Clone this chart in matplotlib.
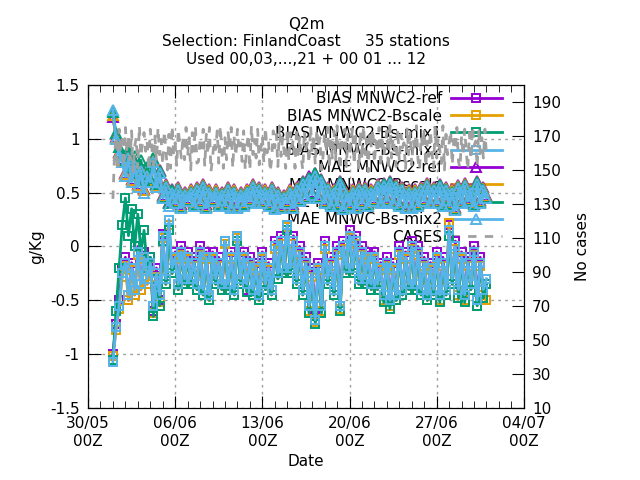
import numpy as np
import pandas as pd
import matplotlib
matplotlib.use('Agg')
import matplotlib.pyplot as plt
import matplotlib.dates as mdates

plt.rcParams['font.family'] = 'DejaVu Sans'
plt.rcParams['font.size'] = 11

# valid times, every 6h (scores) and every 3h (cases) from 01/06 00Z to 01/07 00Z
times = pd.date_range('2021-06-01 00:00', periods=121, freq='6h')
times_cases = pd.date_range('2021-06-01 00:00', periods=241, freq='3h')

# one group per day: 00Z 06Z 12Z 18Z
bias_ref = [-1.00, -0.72, -0.50, -0.20,  -0.10, -0.50, -0.15, -0.45,  0.00, -0.40, -0.05, -0.35,
            -0.10, -0.60, -0.20, -0.50,  0.12, -0.35, 0.20, -0.25,  -0.05, -0.40, 0.00, -0.35,
            -0.05, -0.35, -0.10, -0.40,  0.00, -0.45, -0.05, -0.50,  -0.05, -0.35, -0.10, -0.40,
            0.05, -0.40, -0.05, -0.45,  0.10, -0.35, -0.05, -0.40,  -0.10, -0.45, -0.15, -0.50,
            -0.05, -0.40, -0.15, -0.45,  0.05, -0.30, 0.10, -0.25,  0.20, -0.25, 0.10, -0.35,
            0.00, -0.45, -0.10, -0.60,  -0.20, -0.65, -0.15, -0.60,  0.05, -0.35, -0.10, -0.45,
            0.00, -0.55, 0.05, -0.25,  0.15, -0.25, 0.10, -0.35,  0.00, -0.35, -0.05, -0.40,
            -0.05, -0.40, -0.15, -0.50,  -0.10, -0.55, -0.15, -0.50,  0.00, -0.45, -0.05, -0.40,
            0.05, -0.40, 0.00, -0.45,  -0.10, -0.50, -0.15, -0.45,  -0.05, -0.50, -0.10, -0.45,
            0.20, -0.35, 0.05, -0.45,  -0.05, -0.50, -0.10, -0.40,  0.00, -0.50, -0.10, -0.45,
            -0.35]
bias_bscale = [-1.02, -0.78, -0.58, -0.28,  -0.18, -0.50, -0.22, -0.45,  -0.08, -0.40, -0.12, -0.35,
               -0.18, -0.62, -0.28, -0.52,  0.08, -0.35, 0.20, -0.25,  -0.12, -0.40, -0.08, -0.35,
               -0.12, -0.35, -0.18, -0.40,  -0.08, -0.45, -0.12, -0.50,  -0.12, -0.35, -0.18, -0.40,
               0.02, -0.40, -0.12, -0.45,  0.08, -0.35, -0.12, -0.42,  -0.18, -0.45, -0.22, -0.50,
               -0.12, -0.40, -0.22, -0.45,  -0.02, -0.30, 0.02, -0.25,  0.18, -0.25, 0.02, -0.35,
               -0.08, -0.45, -0.18, -0.60,  -0.28, -0.70, -0.22, -0.60,  -0.02, -0.35, -0.18, -0.45,
               -0.08, -0.58, -0.02, -0.25,  0.08, -0.25, 0.02, -0.35,  -0.08, -0.35, -0.12, -0.40,
               -0.12, -0.40, -0.22, -0.50,  -0.18, -0.55, -0.22, -0.50,  -0.08, -0.45, -0.12, -0.40,
               -0.02, -0.40, -0.08, -0.45,  -0.18, -0.50, -0.22, -0.45,  -0.12, -0.50, -0.18, -0.45,
               0.22, -0.35, -0.02, -0.45,  -0.12, -0.50, -0.18, -0.40,  -0.08, -0.55, -0.18, -0.45,
               -0.50]
bias_mix1 = [-1.05, -0.60, -0.20, 0.20,  0.45, 0.10, 0.35, 0.00,  0.30, -0.05, 0.15, -0.20,
             -0.10, -0.65, -0.30, -0.55,  0.05, -0.35, 0.15, -0.25,  -0.10, -0.40, -0.05, -0.35,
             -0.10, -0.35, -0.15, -0.40,  -0.05, -0.45, -0.10, -0.50,  -0.10, -0.35, -0.15, -0.40,
             0.05, -0.40, -0.10, -0.45,  0.05, -0.35, -0.10, -0.42,  -0.15, -0.45, -0.20, -0.50,
             -0.10, -0.40, -0.20, -0.45,  0.00, -0.30, 0.05, -0.25,  0.15, -0.25, 0.05, -0.35,
             -0.05, -0.45, -0.15, -0.62,  -0.25, -0.72, -0.20, -0.62,  0.00, -0.35, -0.15, -0.45,
             -0.05, -0.60, 0.00, -0.25,  0.10, -0.25, 0.05, -0.35,  -0.05, -0.35, -0.10, -0.40,
             -0.10, -0.40, -0.20, -0.52,  -0.15, -0.58, -0.20, -0.50,  -0.05, -0.45, -0.10, -0.40,
             0.00, -0.40, -0.05, -0.45,  -0.15, -0.50, -0.20, -0.45,  -0.10, -0.52, -0.15, -0.45,
             0.10, -0.35, 0.00, -0.48,  -0.10, -0.52, -0.15, -0.40,  -0.05, -0.55, -0.15, -0.48,
             -0.35]
bias_mix2 = [-1.07, -0.75, -0.55, -0.25,  -0.15, -0.45, -0.20, -0.40,  -0.05, -0.35, -0.10, -0.30,
             -0.15, -0.55, -0.25, -0.45,  0.10, -0.30, 0.25, -0.20,  -0.10, -0.35, -0.05, -0.30,
             -0.10, -0.30, -0.15, -0.35,  -0.05, -0.40, -0.10, -0.45,  -0.10, -0.30, -0.15, -0.35,
             0.05, -0.35, -0.10, -0.40,  0.10, -0.30, -0.10, -0.35,  -0.15, -0.40, -0.20, -0.45,
             -0.10, -0.35, -0.20, -0.40,  0.00, -0.25, 0.05, -0.20,  0.20, -0.20, 0.05, -0.30,
             -0.05, -0.40, -0.15, -0.55,  -0.25, -0.68, -0.20, -0.55,  0.00, -0.30, -0.15, -0.40,
             -0.05, -0.55, 0.00, -0.20,  0.10, -0.20, 0.05, -0.30,  -0.05, -0.30, -0.10, -0.35,
             -0.10, -0.35, -0.20, -0.45,  -0.15, -0.50, -0.20, -0.45,  -0.05, -0.40, -0.10, -0.35,
             0.00, -0.35, -0.05, -0.40,  -0.15, -0.45, -0.20, -0.40,  -0.10, -0.45, -0.15, -0.40,
             0.15, -0.30, 0.00, -0.40,  -0.10, -0.45, -0.15, -0.35,  -0.05, -0.50, -0.15, -0.40,
             -0.30]

mae_ref = [1.20, 1.02, 0.88, 0.81,  0.68, 0.85, 0.63, 0.78,  0.58, 0.73, 0.53, 0.68,
           0.63, 0.81, 0.58, 0.71,  0.48, 0.58, 0.41, 0.53,  0.43, 0.55, 0.39, 0.51,
           0.45, 0.53, 0.41, 0.55,  0.43, 0.58, 0.39, 0.53,  0.45, 0.53, 0.41, 0.51,
           0.41, 0.55, 0.39, 0.53,  0.39, 0.51, 0.41, 0.53,  0.45, 0.58, 0.43, 0.55,
           0.43, 0.53, 0.41, 0.55,  0.38, 0.51, 0.39, 0.48,  0.43, 0.53, 0.39, 0.55,
           0.45, 0.61, 0.48, 0.65,  0.51, 0.68, 0.48, 0.63,  0.43, 0.55, 0.41, 0.53,
           0.41, 0.61, 0.38, 0.51,  0.41, 0.53, 0.39, 0.55,  0.43, 0.55, 0.41, 0.53,
           0.45, 0.58, 0.43, 0.59,  0.45, 0.61, 0.43, 0.58,  0.41, 0.55, 0.39, 0.53,
           0.39, 0.53, 0.41, 0.55,  0.45, 0.59, 0.43, 0.55,  0.43, 0.58, 0.41, 0.55,
           0.41, 0.53, 0.37, 0.57,  0.43, 0.59, 0.45, 0.53,  0.41, 0.61, 0.43, 0.55,
           0.48]
mae_bscale = [1.22, 1.01, 0.87, 0.80,  0.67, 0.84, 0.62, 0.77,  0.57, 0.72, 0.52, 0.67,
              0.62, 0.80, 0.57, 0.70,  0.47, 0.57, 0.40, 0.52,  0.42, 0.54, 0.38, 0.50,
              0.44, 0.52, 0.40, 0.54,  0.42, 0.57, 0.38, 0.52,  0.44, 0.52, 0.40, 0.50,
              0.40, 0.54, 0.38, 0.52,  0.38, 0.50, 0.40, 0.52,  0.44, 0.57, 0.42, 0.54,
              0.42, 0.52, 0.40, 0.54,  0.37, 0.50, 0.38, 0.47,  0.42, 0.52, 0.38, 0.54,
              0.44, 0.60, 0.47, 0.64,  0.50, 0.67, 0.47, 0.62,  0.42, 0.54, 0.40, 0.52,
              0.40, 0.60, 0.37, 0.50,  0.40, 0.52, 0.38, 0.54,  0.42, 0.54, 0.40, 0.52,
              0.44, 0.57, 0.42, 0.58,  0.44, 0.60, 0.42, 0.57,  0.40, 0.54, 0.38, 0.52,
              0.38, 0.52, 0.40, 0.54,  0.44, 0.58, 0.42, 0.54,  0.42, 0.57, 0.40, 0.54,
              0.40, 0.52, 0.36, 0.56,  0.42, 0.58, 0.44, 0.52,  0.40, 0.60, 0.42, 0.54,
              0.47]
mae_mix1 = [1.25, 1.05, 0.92, 0.86,  0.78, 0.90, 0.74, 0.84,  0.68, 0.80, 0.62, 0.74,
            0.64, 0.82, 0.58, 0.70,  0.46, 0.56, 0.40, 0.52,  0.41, 0.53, 0.37, 0.49,
            0.43, 0.51, 0.39, 0.53,  0.41, 0.56, 0.37, 0.51,  0.43, 0.51, 0.39, 0.49,
            0.39, 0.53, 0.37, 0.51,  0.37, 0.49, 0.39, 0.51,  0.43, 0.56, 0.41, 0.53,
            0.41, 0.51, 0.39, 0.53,  0.36, 0.49, 0.37, 0.46,  0.41, 0.51, 0.37, 0.53,
            0.43, 0.60, 0.46, 0.64,  0.50, 0.68, 0.46, 0.62,  0.41, 0.53, 0.39, 0.51,
            0.39, 0.60, 0.36, 0.49,  0.39, 0.51, 0.37, 0.53,  0.41, 0.53, 0.39, 0.51,
            0.43, 0.56, 0.41, 0.58,  0.43, 0.60, 0.41, 0.56,  0.39, 0.53, 0.37, 0.51,
            0.37, 0.51, 0.39, 0.53,  0.43, 0.57, 0.41, 0.53,  0.41, 0.57, 0.39, 0.53,
            0.39, 0.51, 0.35, 0.55,  0.41, 0.57, 0.43, 0.51,  0.39, 0.60, 0.41, 0.53,
            0.46]
mae_mix2 = [1.27, 1.00, 0.85, 0.78,  0.65, 0.82, 0.60, 0.75,  0.55, 0.70, 0.50, 0.65,
            0.60, 0.78, 0.55, 0.68,  0.45, 0.55, 0.38, 0.50,  0.40, 0.52, 0.36, 0.48,
            0.42, 0.50, 0.38, 0.52,  0.40, 0.55, 0.36, 0.50,  0.42, 0.50, 0.38, 0.48,
            0.38, 0.52, 0.36, 0.50,  0.36, 0.48, 0.38, 0.50,  0.42, 0.55, 0.40, 0.52,
            0.40, 0.50, 0.38, 0.52,  0.35, 0.48, 0.36, 0.45,  0.40, 0.50, 0.36, 0.52,
            0.42, 0.58, 0.45, 0.62,  0.48, 0.65, 0.45, 0.60,  0.40, 0.52, 0.38, 0.50,
            0.38, 0.58, 0.35, 0.48,  0.38, 0.50, 0.36, 0.52,  0.40, 0.52, 0.38, 0.50,
            0.42, 0.55, 0.40, 0.56,  0.42, 0.58, 0.40, 0.55,  0.38, 0.52, 0.36, 0.50,
            0.36, 0.50, 0.38, 0.52,  0.42, 0.56, 0.40, 0.52,  0.40, 0.55, 0.38, 0.52,
            0.38, 0.50, 0.34, 0.54,  0.40, 0.56, 0.42, 0.50,  0.38, 0.58, 0.40, 0.52,
            0.45]

# 8 values per day
cases = [133, 158, 170, 150, 174, 162, 168, 152,  175, 160, 171, 156, 173, 149, 164, 169,
         151, 176, 158, 166, 172, 161, 167, 150,  174, 163, 153, 170, 155, 175, 159, 168,
         153, 173, 162, 150, 171, 151, 176, 160,  166, 152, 174, 164, 157, 170, 156, 175,
         158, 169, 150, 172, 161, 176, 154, 155,  168, 163, 174, 152, 171, 159, 175, 149,
         157, 167, 162, 173, 154, 176, 160, 151,  169, 156, 172, 163, 175, 151, 170, 158,
         174, 161, 166, 155, 173, 150, 164, 171,  150, 176, 159, 168, 157, 174, 153, 162,
         170, 154, 175, 160, 167, 149, 156, 173,  163, 171, 152, 176, 158, 169, 161, 151,
         174, 155, 172, 164, 168, 151, 175, 159,  170, 157, 150, 173, 162, 166, 154, 176,
         160, 171, 153, 174, 163, 169, 150, 158,  172, 160, 175, 151, 167, 157, 173, 155,
         176, 162, 150, 169, 164, 174, 152, 171,  158, 166, 175, 153, 170, 161, 150, 173,
         156, 176, 159, 168, 149, 172, 163, 174,  154, 167, 160, 175, 151, 170, 158, 164,
         173, 150, 176, 157, 169, 162, 152, 174,  155, 171, 163, 166, 150, 175, 159, 172,
         153, 168, 161, 176, 156, 150, 170, 164,  174, 152, 167, 158, 173, 160, 151, 175,
         157, 169, 162, 154, 176, 150, 171, 159,  166, 173, 153, 168, 163, 175, 155, 151,
         170, 158, 174, 161, 150, 172, 156, 176,  164, 167, 152, 173, 160, 169, 157, 174,
         158]

tick_dates = pd.to_datetime(['2021-05-30', '2021-06-06', '2021-06-13',
                             '2021-06-20', '2021-06-27', '2021-07-04'])

purple = '#9400d3'
orange = '#e69f00'
green = '#009e73'
blue = '#56b4e9'
gray = '#a0a0a0'

fig = plt.figure(figsize=(6.4, 4.8), dpi=100)
ax = fig.add_axes([0.1375, 0.15, 0.681, 0.673])
ax2 = ax.twinx()

sq = dict(marker='s', markerfacecolor='none', markersize=6, markeredgewidth=1.4, linewidth=2)
tri = dict(marker='^', markerfacecolor='none', markersize=6.5, markeredgewidth=1.4, linewidth=2)

ax.plot(times, bias_ref, color=purple, label='BIAS MNWC2-ref', **sq)
ax.plot(times, bias_bscale, color=orange, label='BIAS MNWC2-Bscale', **sq)
ax.plot(times, bias_mix1, color=green, label='BIAS MNWC2-Bs-mix1', **sq)
ax.plot(times, bias_mix2, color=blue, label='BIAS MNWC-Bs-mix2', **sq)
ax.plot(times, mae_ref, color=purple, label='MAE MNWC2-ref', **tri)
ax.plot(times, mae_bscale, color=orange, label='MAE MNWC2-Bscale', **tri)
ax.plot(times, mae_mix1, color=green, label='MAE MNWC2-Bs-mix1', **tri)
ax.plot(times, mae_mix2, color=blue, label='MAE MNWC-Bs-mix2', **tri)
ax2.plot(times_cases, cases, color=gray, linewidth=2, dashes=(3, 3), label='CASES')

ax.set_xlim(tick_dates[0], tick_dates[-1])
ax.set_ylim(-1.5, 1.5)
ax2.set_ylim(10, 200)

ax.set_xticks(tick_dates)
ax.set_xticklabels([d.strftime('%d/%m') + '\n00Z' for d in tick_dates])
ax.xaxis.set_minor_locator(mdates.DayLocator())
ax.set_yticks(np.arange(-1.5, 1.51, 0.5))
ax.set_yticklabels(['-1.5', '-1', '-0.5', '0', '0.5', '1', '1.5'])
ax2.set_yticks(np.arange(10, 191, 20))

ax.tick_params(axis='x', which='both', direction='in', top=True, pad=6)
ax.tick_params(axis='x', which='major', length=9)
ax.tick_params(axis='x', which='minor', length=5)
ax.tick_params(axis='y', direction='in', length=9, right=False, pad=6)
ax2.tick_params(axis='y', direction='in', length=9, pad=6)

ax.grid(True, which='major', color=gray, linestyle=(0, (2, 3)), linewidth=1)

ax.set_xlabel('Date')
ax.set_ylabel('g/Kg')
ax2.set_ylabel('No cases', labelpad=10)
ax.set_title('Q2m\nSelection: FinlandCoast     35 stations\nUsed 00,03,...,21 + 00 01 ... 12',
             fontsize=11, pad=15, linespacing=1.22)

h1, l1 = ax.get_legend_handles_labels()
h2, l2 = ax2.get_legend_handles_labels()
leg = ax.legend(h1 + h2, l1 + l2, loc='upper right', bbox_to_anchor=(0.956, 0.99),
                frameon=False, markerfirst=False, handlelength=3.3, labelspacing=0.15,
                borderaxespad=0.0, borderpad=0.2, handletextpad=0.6)
leg.set_zorder(1)

fig.savefig('out.png', dpi=100)
